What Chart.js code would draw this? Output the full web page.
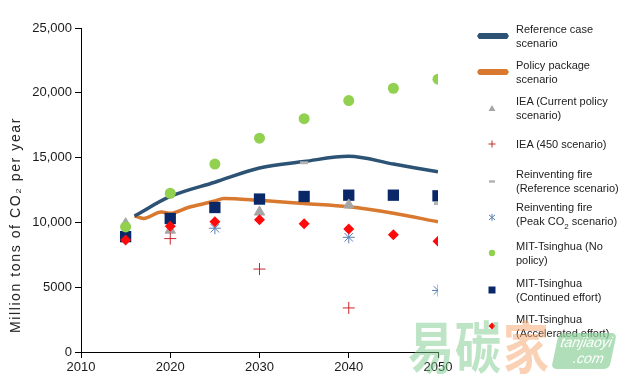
<!DOCTYPE html>
<html>
<head>
<meta charset="utf-8">
<script src="https://cdn.jsdelivr.net/npm/chart.js@4.4.1/dist/chart.umd.min.js"></script>
<style>
  html, body { margin: 0; padding: 0; background: #fff; }
  #wrap { position: relative; width: 623px; height: 378px; overflow: hidden; font-family: "Liberation Sans", Arial, sans-serif; color: #222; }
  #chart { position: absolute; left: 0; top: 0; }
  #ytitle { position: absolute; left: 15px; top: 225px; transform: translate(-50%, -50%) rotate(-90deg); white-space: nowrap; font-size: 14px; font-weight: normal; letter-spacing: 1.6px; color: #222; }
  .leg { position: absolute; left: 470px; width: 153px; display: flex; align-items: center; transform: translateY(-50%); }
  .leg svg { flex: none; }
  .leg div { font-size: 11px; line-height: 14px; margin-left: 6px; }
  #wm { position: absolute; left: 0; top: 0; width: 623px; height: 378px; pointer-events: none; }
  #wm span { position: absolute; font-family: "Noto Sans CJK SC"; font-weight: bold; font-size: 56px; line-height: 56px; opacity: 0.5; transform: scaleX(0.82); transform-origin: left top; }
  #wm .g { color: #7cc98a; }
  #wm .o { color: #f5a46a; }
  #wm .box { position: absolute; left: 555px; top: 333px; width: 58px; height: 36px; background: #8fd19b; opacity: 0.7; transform: skewX(-12deg); border-radius: 5px; }
  #wm .box i { position: absolute; color: #fff; font-family: "Liberation Sans", Arial, sans-serif; font-size: 14px; line-height: 16px; }
</style>
</head>
<body>
<div id="wrap">
  <canvas id="chart" width="623" height="378"></canvas>
  <div id="ytitle">Million tons of CO₂ per year</div>
  <div id="legend"></div>
  <div id="wm">
    <span class="g" style="left:408px; top:316px;">易</span>
    <span class="g" style="left:455px; top:316px;">碳</span>
    <span class="o" style="left:503px; top:316px;">家</span>
    <div class="box"><i style="left:4px; top:1px;">tanjiaoyi</i><i style="left:20px; top:17px;">.com</i></div>
  </div>
</div>
<script>
// axis ticks
const xTickLabels = ['2010', '2020', '2030', '2040', '2050'];
const yTickLabels = ['0', '5000', '10,000', '15,000', '20,000', '25,000'];

// model lines
const refCaseYears = [2016, 2020, 2025, 2030, 2035, 2040, 2045, 2050];
const refCaseValues = [10500, 12000, 13100, 14200, 14700, 15100, 14500, 13900];
const policyYears = [2016, 2017, 2019, 2020, 2022, 2025, 2026, 2030, 2035, 2040, 2045, 2050];
const policyValues = [10500, 10300, 10800, 10700, 11150, 11650, 11850, 11700, 11450, 11200, 10700, 10050];

// other studies
const ieaCurrentYears = [2015, 2020, 2030, 2040];
const ieaCurrentValues = [9900, 9400, 10800, 11350];
const iea450Years = [2020, 2030, 2040];
const iea450Values = [8750, 6400, 3400];
const rfRefYears = [2035, 2050];
const rfRefValues = [14600, 11450];
const rfPeakYears = [2025, 2040, 2050];
const rfPeakValues = [9550, 8850, 4750];
const mitYears = [2015, 2020, 2025, 2030, 2035, 2040, 2045, 2050];
const mitNoPolicy = [9650, 12250, 14500, 16500, 18000, 19400, 20350, 21050];
const mitContinued = [8900, 10300, 11150, 11800, 12000, 12100, 12100, 12050];
const mitAccelerated = [8650, 9700, 10050, 10200, 9900, 9500, 9050, 8550];

const seriesNames = [
  ['Reference case', 'scenario'],
  ['Policy package', 'scenario'],
  ['IEA (Current policy', 'scenario)'],
  ['IEA (450 scenario)'],
  ['Reinventing fire', '(Reference scenario)'],
  ['Reinventing fire', '(Peak CO<sub style="font-size:8px">2</sub> scenario)'],
  ['MIT-Tsinghua (No', 'policy)'],
  ['MIT-Tsinghua', '(Continued effort)'],
  ['MIT-Tsinghua', '(Accelerated effort)']
];

function pts(xs, ys) {
  return xs.map((x, i) => ({ x: x, y: ys[i] }));
}

Chart.defaults.font.family = '"Liberation Sans", Arial, sans-serif';

const ctx = document.getElementById('chart').getContext('2d');
new Chart(ctx, {
  type: 'scatter',
  data: {
    datasets: [
      { label: 'Reference case scenario', type: 'line', data: pts(refCaseYears, refCaseValues),
        borderColor: '#2c5274', borderWidth: 3.5, pointRadius: 0, cubicInterpolationMode: 'monotone', order: 5 },
      { label: 'Policy package scenario', type: 'line', data: pts(policyYears, policyValues),
        borderColor: '#d8792f', borderWidth: 3.5, pointRadius: 0, cubicInterpolationMode: 'monotone', order: 5 },
      { label: 'IEA (Current policy scenario)', data: pts(ieaCurrentYears, ieaCurrentValues),
        pointStyle: 'triangle', pointRadius: 6, backgroundColor: '#a6a6a6', borderColor: '#a6a6a6', order: 3 },
      { label: 'IEA (450 scenario)', data: pts(iea450Years, iea450Values),
        pointStyle: 'cross', pointRadius: 6, borderColor: '#c8262c', borderWidth: 1, order: 1 },
      { label: 'Reinventing fire (Reference scenario)', data: pts(rfRefYears, rfRefValues),
        pointStyle: 'line', pointRadius: 4, borderColor: '#b4b4b4', borderWidth: 3, order: 1 },
      { label: 'Reinventing fire (Peak CO2 scenario)', data: pts(rfPeakYears, rfPeakValues),
        pointStyle: 'star', pointRadius: 6, borderColor: '#5a7fb6', borderWidth: 1, order: 2 },
      { label: 'MIT-Tsinghua (No policy)', data: pts(mitYears, mitNoPolicy),
        pointStyle: 'circle', pointRadius: 5.5, backgroundColor: '#92d050', borderColor: '#92d050', borderWidth: 0, order: 2 },
      { label: 'MIT-Tsinghua (Continued effort)', data: pts(mitYears, mitContinued),
        pointStyle: 'rect', pointRadius: 8, backgroundColor: '#0a2868', borderColor: '#0a2868', borderWidth: 0, order: 4 },
      { label: 'MIT-Tsinghua (Accelerated effort)', data: pts(mitYears, mitAccelerated),
        pointStyle: 'rectRot', pointRadius: 5.5, backgroundColor: '#ff0a0a', borderColor: '#ff0a0a', borderWidth: 0, order: 1 }
    ]
  },
  options: {
    responsive: false,
    animation: false,
    layout: { padding: { top: 28, right: 185, left: 0, bottom: 0 } },
    plugins: { legend: { display: false }, tooltip: { enabled: false } },
    scales: {
      x: {
        type: 'linear', min: 2010, max: 2050,
        ticks: { stepSize: 10, color: '#1a1a1a', font: { size: 13 }, padding: 2, maxRotation: 0,
          callback: (v, i) => xTickLabels[i] },
        grid: { drawOnChartArea: false, drawTicks: true, tickLength: 6, color: '#000' },
        border: { color: '#000', width: 1 },
        afterFit: s => { s.height = 26; }
      },
      y: {
        min: 0, max: 25000,
        ticks: { stepSize: 5000, color: '#1a1a1a', font: { size: 13 }, padding: 3,
          callback: (v, i) => yTickLabels[i] },
        grid: { drawOnChartArea: false, drawTicks: true, tickLength: 6, color: '#000' },
        border: { color: '#000', width: 1 },
        afterFit: s => { s.width = 81; }
      }
    }
  }
});

// legend icons
const icons = [
  '<polygon points="7,7 9,4 37,4 39,7 37,10 9,10" fill="#2c5274"/>',
  '<polygon points="7,7 9,4 37,4 39,7 37,10 9,10" fill="#d8792f"/>',
  '<polygon points="22,4 25.5,10 18.5,10" fill="#a6a6a6"/>',
  '<path d="M22,3.5 V10.5 M18.5,7 H25.5" stroke="#c8262c" stroke-width="1"/>',
  '<path d="M19,7.5 H25" stroke="#b4b4b4" stroke-width="2.5"/>',
  '<path d="M22,3.5 V10.5 M19,4.5 L25,9.5 M25,4.5 L19,9.5" stroke="#5a7fb6" stroke-width="1"/>',
  '<circle cx="22" cy="7" r="3.2" fill="#92d050"/>',
  '<rect x="18.5" y="3.5" width="7" height="7" fill="#0a2868"/>',
  '<polygon points="22,3.5 25.5,7 22,10.5 18.5,7" fill="#ff0a0a"/>'
];
const legendEl = document.getElementById('legend');
seriesNames.forEach((name, i) => {
  const row = document.createElement('div');
  row.className = 'leg';
  row.style.top = (35.5 + i * 36.3) + 'px';
  row.innerHTML = '<svg width="40" height="14" viewBox="0 0 40 14">' + icons[i] + '</svg><div>' + name.join('<br>') + '</div>';
  legendEl.appendChild(row);
});
</script>
</body>
</html>
